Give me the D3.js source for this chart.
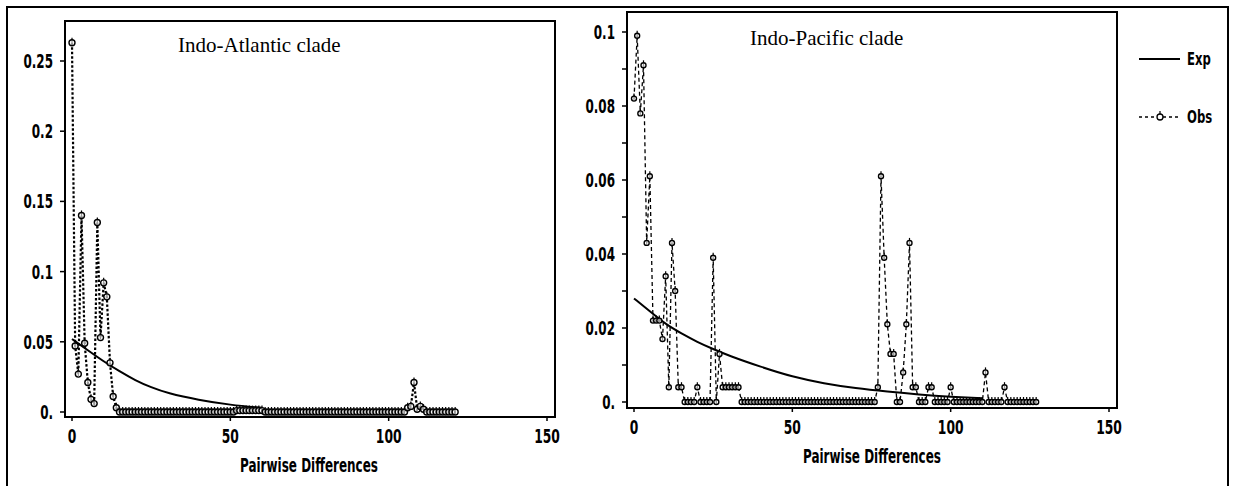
<!DOCTYPE html>
<html>
<head>
<meta charset="utf-8">
<script src="https://cdn.jsdelivr.net/npm/d3@7"></script>
<style>
  body { margin: 0; background: #fff; }
  .tick-label, .axis-title, .legend-text {
    font-family: "Liberation Sans Narrow", "DejaVu Sans Condensed", "Liberation Sans", sans-serif;
    font-weight: bold;
  }
  .panel-title { font-family: "Liberation Serif", "DejaVu Serif", serif; }
</style>
</head>
<body>
<svg id="draw"></svg>
<script>
// tick values / labels
var xTicks = [0, 50, 100, 150];
var atlYTicks = [0, 0.05, 0.1, 0.15, 0.2, 0.25];
var atlYLabels = ["0.", "0.05", "0.1", "0.15", "0.2", "0.25"];
var pacYTicks = [0, 0.01, 0.02, 0.03, 0.04, 0.05, 0.06, 0.07, 0.08, 0.09, 0.1];
var pacYLabels = ["0.", "", "0.02", "", "0.04", "", "0.06", "", "0.08", "", "0.1"];

// Indo-Atlantic: observed frequency for pairwise differences 0..121
var atlObs = [
  0.263, 0.047, 0.027, 0.140, 0.049, 0.021, 0.009, 0.006, 0.135, 0.053,
  0.092, 0.082, 0.035, 0.011, 0.003, 0, 0, 0, 0, 0,
  0, 0, 0, 0, 0, 0, 0, 0, 0, 0,
  0, 0, 0, 0, 0, 0, 0, 0, 0, 0,
  0, 0, 0, 0, 0, 0, 0, 0, 0, 0,
  0, 0, 0.001, 0.001, 0.001, 0.001, 0.001, 0.001, 0.001, 0.001,
  0.001, 0, 0, 0, 0, 0, 0, 0, 0, 0,
  0, 0, 0, 0, 0, 0, 0, 0, 0, 0,
  0, 0, 0, 0, 0, 0, 0, 0, 0, 0,
  0, 0, 0, 0, 0, 0, 0, 0, 0, 0,
  0, 0, 0, 0, 0, 0, 0.003, 0.004, 0.021, 0.002,
  0.004, 0.002, 0, 0, 0, 0, 0, 0, 0, 0,
  0, 0
];
// Indo-Atlantic: expected curve, read at a few points
var atlExpX = [0, 5, 10, 15, 20, 25, 30, 40, 50, 60];
var atlExpY = [0.052, 0.044, 0.036, 0.029, 0.0225, 0.0175, 0.0135, 0.0085, 0.005, 0.003];

// Indo-Pacific: observed frequency for pairwise differences 0..127
var pacObs = [
  0.082, 0.099, 0.078, 0.091, 0.043, 0.061, 0.022, 0.022, 0.022, 0.017,
  0.034, 0.004, 0.043, 0.030, 0.004, 0.004, 0, 0, 0, 0,
  0.004, 0, 0, 0, 0, 0.039, 0, 0.013, 0.004, 0.004,
  0.004, 0.004, 0.004, 0.004, 0, 0, 0, 0, 0, 0,
  0, 0, 0, 0, 0, 0, 0, 0, 0, 0,
  0, 0, 0, 0, 0, 0, 0, 0, 0, 0,
  0, 0, 0, 0, 0, 0, 0, 0, 0, 0,
  0, 0, 0, 0, 0, 0, 0, 0.004, 0.061, 0.039,
  0.021, 0.013, 0.013, 0, 0, 0.008, 0.021, 0.043, 0.004, 0.004,
  0, 0, 0, 0.004, 0.004, 0, 0, 0, 0, 0,
  0.004, 0, 0, 0, 0, 0, 0, 0, 0, 0,
  0, 0.008, 0, 0, 0, 0, 0, 0.004, 0, 0,
  0, 0, 0, 0, 0, 0, 0, 0
];
var pacExpX = [0, 5, 10, 15, 20, 25, 30, 40, 50, 60, 70, 80, 90, 100, 110];
var pacExpY = [0.028, 0.0245, 0.021, 0.0185, 0.0162, 0.0143, 0.0125, 0.0095, 0.0068, 0.005, 0.0037, 0.0028, 0.002, 0.0014, 0.001];

var W = 1234, H = 486;
var svg = d3.select("#draw").attr("width", W).attr("height", H);

// the reference uses a condensed font; squeeze the text to match
function squeeze(sel, k) {
  sel.each(function() {
    var len = this.getComputedTextLength();
    if (len > 0) {
      d3.select(this).attr("textLength", len * k).attr("lengthAdjust", "spacingAndGlyphs");
    }
  });
}

// outer frame (bottom runs off the picture)
svg.append("rect")
  .attr("x", 7).attr("y", 7).attr("width", 1221).attr("height", 490)
  .attr("fill", "none").attr("stroke", "#000").attr("stroke-width", 2);

function drawPanel(p) {
  var xScale = d3.scaleLinear().domain([0, 150]).range([p.x0, p.x1]);
  var yScale = d3.scaleLinear().domain([0, p.yMax]).range([p.y0, p.y1]);
  var g = svg.append("g");

  // plot box
  g.append("rect")
    .attr("x", p.box[0]).attr("y", p.box[1])
    .attr("width", p.box[2] - p.box[0]).attr("height", p.box[3] - p.box[1])
    .attr("fill", "none").attr("stroke", "#000").attr("stroke-width", 2);

  // y ticks
  g.selectAll(".ytick")
    .data(p.yTicks)
    .enter().append("line")
    .attr("x1", p.box[0] - 5).attr("x2", p.box[0])
    .attr("y1", function(d) { return yScale(d); })
    .attr("y2", function(d) { return yScale(d); })
    .attr("stroke", "#000").attr("stroke-width", 1.5);

  var ylab = g.selectAll(".ylab")
    .data(p.yTicks)
    .enter().append("text")
    .attr("class", "tick-label")
    .attr("x", p.box[0] - 12)
    .attr("y", function(d) { return yScale(d) + 7; })
    .attr("text-anchor", "end")
    .attr("font-size", 19)
    .text(function(d, i) { return p.yLabels[i]; });
  squeeze(ylab, 0.7);

  // x ticks
  g.selectAll(".xtick")
    .data(xTicks)
    .enter().append("line")
    .attr("x1", function(d) { return xScale(d); })
    .attr("x2", function(d) { return xScale(d); })
    .attr("y1", p.box[3]).attr("y2", p.box[3] + 4)
    .attr("stroke", "#000").attr("stroke-width", 1.5);

  var xlab = g.selectAll(".xlab")
    .data(xTicks)
    .enter().append("text")
    .attr("class", "tick-label")
    .attr("x", function(d) { return xScale(d); })
    .attr("y", p.box[3] + 26)
    .attr("text-anchor", "middle")
    .attr("font-size", 19)
    .text(function(d) { return d; });
  squeeze(xlab, 0.72);

  g.append("text")
    .attr("class", "axis-title")
    .attr("x", p.titleX).attr("y", p.box[3] + 55)
    .attr("text-anchor", "middle")
    .attr("font-size", 19)
    .attr("textLength", 138).attr("lengthAdjust", "spacingAndGlyphs")
    .text("Pairwise Differences");

  g.append("text")
    .attr("class", "panel-title")
    .attr("x", p.labelX).attr("y", p.labelY)
    .attr("font-size", 21)
    .text(p.label);

  // expected curve
  var expLine = d3.line()
    .x(function(d, i) { return xScale(p.expX[i]); })
    .y(function(d) { return yScale(d); })
    .curve(d3.curveBasis);

  g.append("path")
    .datum(p.expY)
    .attr("d", expLine)
    .attr("fill", "none").attr("stroke", "#000").attr("stroke-width", 2);

  // observed
  var obsLine = d3.line()
    .x(function(d, i) { return xScale(i); })
    .y(function(d) { return yScale(d); });

  g.append("path")
    .datum(p.obs)
    .attr("d", obsLine)
    .attr("fill", "none").attr("stroke", "#000")
    .attr("stroke-width", p.dashW).attr("stroke-dasharray", p.dash);

  var dots = g.selectAll(".dot")
    .data(p.obs)
    .enter().append("g")
    .attr("transform", function(d, i) {
      return "translate(" + xScale(i) + "," + yScale(d) + ")";
    });
  dots.append("line")
    .attr("y1", -5).attr("y2", 2)
    .attr("stroke", "#000").attr("stroke-width", 1.2);
  dots.append("circle")
    .attr("r", p.r)
    .attr("fill", "#fff").attr("fill-opacity", 0.6)
    .attr("stroke", "#000").attr("stroke-width", 1.4);
}

drawPanel({
  x0: 72, x1: 547, y0: 412, y1: 61, yMax: 0.25,
  box: [65, 21, 555, 417],
  yTicks: atlYTicks, yLabels: atlYLabels,
  obs: atlObs, expX: atlExpX, expY: atlExpY,
  dash: "2.5,2", dashW: 2.2, r: 3,
  titleX: 309, label: "Indo-Atlantic clade", labelX: 178, labelY: 52
});

drawPanel({
  x0: 634, x1: 1109, y0: 402, y1: 32, yMax: 0.1,
  box: [627, 12, 1117, 408],
  yTicks: pacYTicks, yLabels: pacYLabels,
  obs: pacObs, expX: pacExpX, expY: pacExpY,
  dash: "4,3", dashW: 1.3, r: 2.5,
  titleX: 872, label: "Indo-Pacific clade", labelX: 750, labelY: 45
});

// legend
var legend = svg.append("g");
legend.append("line")
  .attr("x1", 1139).attr("x2", 1180).attr("y1", 59).attr("y2", 59)
  .attr("stroke", "#000").attr("stroke-width", 2);
legend.append("line")
  .attr("x1", 1139).attr("x2", 1180).attr("y1", 117).attr("y2", 117)
  .attr("stroke", "#000").attr("stroke-width", 1.5).attr("stroke-dasharray", "3,3");
legend.append("line")
  .attr("x1", 1160).attr("x2", 1160).attr("y1", 111).attr("y2", 119)
  .attr("stroke", "#000").attr("stroke-width", 1.2);
legend.append("circle")
  .attr("cx", 1160).attr("cy", 117).attr("r", 3)
  .attr("fill", "#fff").attr("stroke", "#000").attr("stroke-width", 1.3);
var ltext = legend.selectAll(".legend-text")
  .data([["Exp", 65], ["Obs", 123]])
  .enter().append("text")
  .attr("class", "legend-text")
  .attr("x", 1187)
  .attr("y", function(d) { return d[1]; })
  .attr("font-size", 18)
  .text(function(d) { return d[0]; });
squeeze(ltext, 0.72);
</script>
</body>
</html>
